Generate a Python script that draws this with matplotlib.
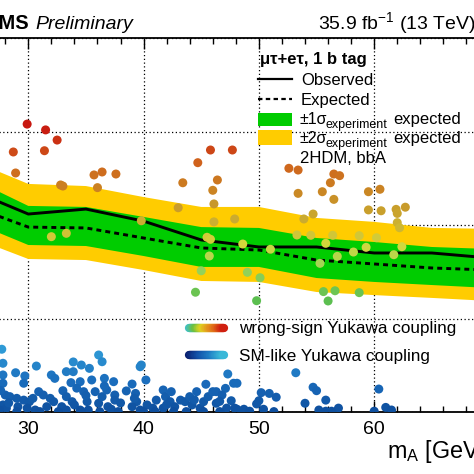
import numpy as np
import matplotlib
matplotlib.use("Agg")
import matplotlib.pyplot as plt
from matplotlib.colors import LinearSegmentedColormap
from matplotlib.collections import LineCollection
from matplotlib.lines import Line2D
from matplotlib.patches import Rectangle
from matplotlib.ticker import MultipleLocator, NullLocator, FuncFormatter

plt.rcParams["font.family"] = ["Liberation Sans", "DejaVu Sans"]
plt.rcParams["mathtext.fontset"] = "custom"
plt.rcParams["mathtext.rm"] = "Liberation Sans"
plt.rcParams["mathtext.it"] = "Liberation Sans:italic"
plt.rcParams["mathtext.bf"] = "Liberation Sans:bold"

# limit bands vs m_A
mass = [25, 30, 35, 40, 45, 50, 55, 60, 65, 70]
observed = [23.7, 13.1, 14.8, 11.0, 6.92, 5.82, 5.82, 5.02, 5.02, 4.44]
expected = [16.0, 9.5, 9.3, 7.26, 5.68, 5.40, 4.22, 3.83, 3.47, 3.30]
exp_p1 = [31.8, 16.0, 15.6, 12.2, 9.5, 9.3, 7.26, 6.58, 5.82, 5.54]
exp_m1 = [11.0, 6.11, 5.96, 4.66, 3.56, 3.56, 2.71, 2.46, 2.28, 2.12]
exp_p2 = [49.6, 27.5, 26.1, 19.9, 15.6, 15.6, 11.9, 10.8, 9.3, 9.1]
exp_m2 = [7.45, 4.33, 4.22, 3.30, 2.52, 2.46, 1.92, 1.78, 1.66, 1.54]

# 2HDM scan points, wrong-sign Yukawa coupling
ws_mass = [29.9, 31.5, 32.5, 28.7, 31.4, 28.9, 32.8, 33.0, 35.7, 36.4,
           37.6, 36.0, 45.8, 47.7, 44.7, 43.4, 46.4, 46.0, 46.1, 43.0,
           46.1, 47.9, 39.8, 32.0, 33.3, 45.5, 45.8, 45.7, 45.0, 44.5,
           52.6, 53.4, 56.5, 57.0, 56.2, 53.4, 55.5, 56.5, 59.5, 60.5,
           59.5, 60.6, 61.9, 62.7, 62.0, 62.0, 62.2, 54.7, 53.9, 53.3,
           54.5, 56.4, 58.7, 60.2, 55.8, 48.6, 51.0, 58.2, 59.3, 62.4,
           56.8, 61.7, 55.3, 49.0, 50.1, 55.6, 56.6, 58.7, 56.0, 49.8]
ws_xsec = [120, 104, 81, 60.4, 62.3, 36.0, 26.8, 26.1, 34.3, 36.9,
           35.1, 25.1, 63.4, 63.4, 46.4, 28.3, 30.3, 23.5, 16.8, 15.3,
           10.8, 11.6, 11.1, 7.50, 8.15, 7.39, 7.03, 4.66, 3.24, 1.91,
           40.4, 38.7, 35.1, 33.7, 28.3, 21.8, 22.7, 18.8, 22.7, 24.1,
           14.5, 14.2, 14.7, 15.5, 13.3, 10.6, 9.35, 13.1, 11.6, 7.82,
           7.76, 7.76, 7.69, 7.31, 6.37, 6.26, 5.50, 5.14, 5.77, 5.86,
           4.62, 4.81, 3.89, 3.12, 2.73, 1.94, 1.98, 1.89, 1.54, 1.55]

# 2HDM scan points, SM-like Yukawa coupling
sm_mass = [27.7, 27.8, 27.8, 27.8, 28.9, 29.7, 29.6, 30.7, 32.0, 32.3,
           33.3, 33.9, 34.6, 35.3, 36.1, 36.4, 33.7, 34.5, 35.5, 36.6,
           37.4, 39.8, 39.7, 39.0, 38.5, 40.2, 45.4, 47.3, 46.3, 47.1,
           47.8, 28.0, 28.4, 29.0, 29.6, 30.1, 27.8, 28.1, 29.1, 29.9,
           30.6, 30.9, 31.3, 31.9, 32.2, 31.6, 32.9, 33.0, 33.3, 33.8,
           34.0, 34.5, 34.8, 35.1, 35.8, 36.1, 36.4, 36.8, 36.9, 37.5,
           37.5, 37.2, 39.3, 39.4, 39.0, 39.7, 40.3, 40.8, 41.1, 41.7,
           41.9, 42.4, 42.3, 42.7, 41.7, 43.2, 43.6, 44.0, 44.2, 44.6,
           44.9, 45.2, 45.6, 46.0, 46.3, 46.8, 47.2, 47.6, 47.9, 33.3,
           35.2, 48.1, 53.2, 50.2, 50.9, 51.5, 50.0, 49.8, 54.7, 55.0,
           55.8, 54.0, 60.4, 61.0, 61.5, 60.0, 56.9, 56.3, 55.8, 55.2,
           50.4, 51.3, 48.7, 49.2, 48.1, 27.5, 29.0, 31.0, 32.6, 34.6,
           36.2, 37.8, 40.0, 41.0, 42.6, 43.7, 45.2, 46.6, 28.3, 30.4,
           34.2, 35.0, 38.0, 42.0, 44.4, 46.6, 27.6, 33.9, 36.6, 39.2]
sm_xsec = [0.469, 0.332, 0.249, 0.203, 0.263, 0.243, 0.203, 0.310, 0.249, 0.229,
           0.270, 0.343, 0.318, 0.293, 0.407, 0.345, 0.206, 0.211, 0.220, 0.229,
           0.211, 0.318, 0.305, 0.199, 0.168, 0.220, 0.198, 0.255, 0.165, 0.179,
           0.203, 0.152, 0.146, 0.140, 0.134, 0.129, 0.119, 0.110, 0.114, 0.110,
           0.105, 0.165, 0.152, 0.140, 0.129, 0.114, 0.114, 0.169, 0.146, 0.129,
           0.119, 0.105, 0.165, 0.129, 0.165, 0.124, 0.146, 0.172, 0.114, 0.152,
           0.134, 0.107, 0.158, 0.129, 0.114, 0.105, 0.119, 0.110, 0.134, 0.172,
           0.146, 0.165, 0.129, 0.114, 0.110, 0.134, 0.129, 0.146, 0.119, 0.165,
           0.110, 0.129, 0.146, 0.165, 0.124, 0.152, 0.110, 0.132, 0.110, 0.105,
           0.105, 0.203, 0.263, 0.161, 0.158, 0.144, 0.132, 0.122, 0.184, 0.169,
           0.134, 0.124, 0.176, 0.112, 0.105, 0.102, 0.110, 0.102, 0.102, 0.105,
           0.107, 0.101, 0.107, 0.102, 0.107, 0.105, 0.101, 0.101, 0.101, 0.101,
           0.101, 0.101, 0.101, 0.101, 0.101, 0.101, 0.101, 0.101, 0.125, 0.140,
           0.180, 0.150, 0.125, 0.120, 0.135, 0.130, 0.170, 0.270, 0.190, 0.140]

W = H = 474


def fx(px):
    return px / W


def fy(py):
    return 1 - py / H


ws_cmap = LinearSegmentedColormap.from_list("ws", [
    (0.0, "#5cbf50"), (0.18, "#9ad45a"), (0.32, "#d4d83c"), (0.42, "#cdb632"),
    (0.55, "#c8982a"), (0.68, "#cc7a20"), (0.8, "#d0601c"), (0.9, "#cc3a14"),
    (1.0, "#c81810")])
sm_cmap = LinearSegmentedColormap.from_list("sm", ["#0e4f9e", "#1a6cbc", "#2f9ad6"])
ws_pill = LinearSegmentedColormap.from_list("wsp", ["#40c0c8", "#6cc040", "#e0d420",
                                                    "#e49a20", "#e06818", "#d02010"])
sm_pill = LinearSegmentedColormap.from_list("smp", ["#0a1f6e", "#1250a8", "#1f7cc4", "#3ab8d8"])

fig = plt.figure(figsize=(4.74, 4.74), dpi=100)
x0, x1 = 28.3 - 5 * 11.53, 28.3 + 40 * 11.53
ax = fig.add_axes([fx(x0), fy(412), (x1 - x0) / W, (412 - 38) / H])
ax.set_xlim(25, 70)
ax.set_yscale("log")
ax.set_ylim(0.1, 1000)

ax.fill_between(mass, exp_m2, exp_p2, color="#ffcc00", lw=0, zorder=1)
ax.fill_between(mass, exp_m1, exp_p1, color="#00cc00", lw=0, zorder=1.1)
ax.plot(mass, observed, color="black", lw=2.1, zorder=2)
ax.plot(mass, expected, color="black", lw=2.1, ls=(0, (1.7, 1.4)), zorder=2)

ax.scatter(ws_mass, ws_xsec, c=np.log10(ws_xsec), cmap=ws_cmap, vmin=0.2, vmax=2.05,
           s=42, linewidths=0, zorder=4)
ax.scatter(sm_mass, sm_xsec, c=np.log10(sm_xsec), cmap=sm_cmap, vmin=-1.0, vmax=-0.35,
           s=42, linewidths=0, zorder=4)

ax.xaxis.set_major_locator(MultipleLocator(10))
ax.xaxis.set_minor_locator(MultipleLocator(2))
ax.xaxis.set_major_formatter(FuncFormatter(lambda v, p: "%d" % v if v < 65 else ""))
ax.yaxis.set_minor_locator(NullLocator())
ax.grid(True, which="major", color="black", lw=0.9, ls=(0, (1, 2)), zorder=0)
ax.set_axisbelow(True)
ax.tick_params(axis="x", which="both", direction="in", top=True, labelsize=14, pad=6.5, width=1)
ax.tick_params(axis="x", which="major", length=8)
ax.tick_params(axis="x", which="minor", length=4.5)
ax.tick_params(axis="y", which="both", left=False, right=False, labelleft=False)
for s in ax.spines.values():
    s.set_linewidth(1.3)

# header
fig.text(fx(29), fy(29), "CMS", fontsize=14.5, fontweight="bold", ha="right", va="baseline")
fig.text(fx(35), fy(29), "Preliminary", fontsize=14, style="italic", ha="left", va="baseline")
fig.text(fx(318), fy(29), r"35.9 fb$^{-1}$ (13 TeV)", fontsize=14, ha="left", va="baseline")
fig.text(fx(387), fy(458), r"m$_\mathregular{A}$ [GeV]", fontsize=16.8, ha="left", va="baseline")

# limit legend
fig.text(fx(260), fy(64), "μτ+eτ, 1 b tag", fontsize=12, fontweight="bold", va="baseline")
fig.add_artist(Line2D([fx(258), fx(292)], [fy(79), fy(79)], color="black", lw=1.6))
fig.text(fx(301), fy(85), "Observed", fontsize=12, va="baseline")
fig.add_artist(Line2D([fx(258), fx(292)], [fy(99), fy(99)], color="black", lw=1.6,
                      ls=(0, (2, 1.5))))
fig.text(fx(301), fy(105), "Expected", fontsize=12, va="baseline")
fig.add_artist(Rectangle((fx(258), fy(126)), (292 - 258) / W, 13 / H, color="#00cc00", lw=0))
fig.add_artist(Rectangle((fx(258), fy(145)), (292 - 258) / W, 15 / H, color="#ffcc00", lw=0))
for i, base in enumerate([124, 143]):
    fig.text(fx(300), fy(base), "±%dσ" % (i + 1), fontsize=11.5, va="baseline")
    fig.text(fx(325), fy(base + 4), "experiment", fontsize=9, va="baseline")
    fig.text(fx(393), fy(base), "expected", fontsize=12, va="baseline")
fig.text(fx(300), fy(163), "2HDM, bbA", fontsize=12, va="baseline")

# scan legend
for yc, cm, label, base in [(328, ws_pill, "wrong-sign Yukawa coupling", 333),
                            (355, sm_pill, "SM-like Yukawa coupling", 361)]:
    xs = np.linspace(fx(189), fx(224), 50)
    segs = [[(xs[k], fy(yc)), (xs[k + 1], fy(yc))] for k in range(len(xs) - 1)]
    lc = LineCollection(segs, colors=cm(np.linspace(0, 1, len(segs))), linewidths=6,
                        capstyle="round", transform=fig.transFigure)
    fig.add_artist(lc)
    fig.text(fx(239), fy(base), label, fontsize=12.3, va="baseline")

fig.savefig("out.png", dpi=100)
